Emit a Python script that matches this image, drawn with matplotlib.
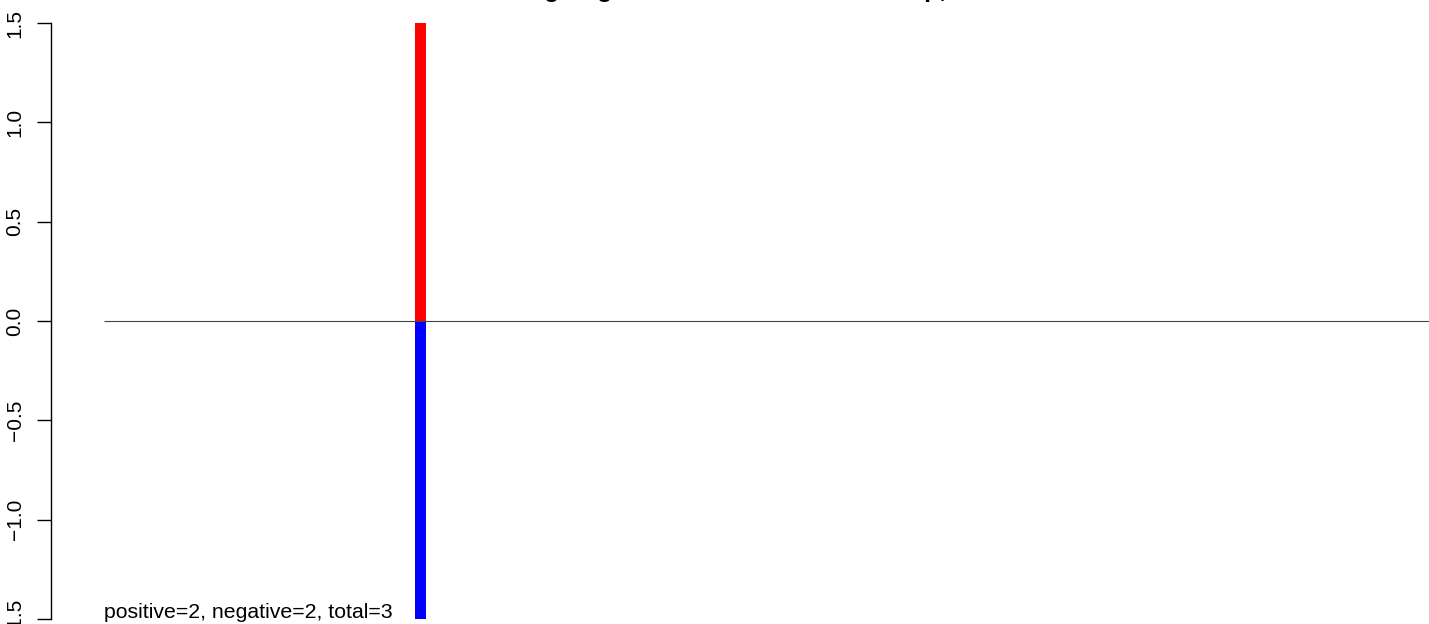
import matplotlib
matplotlib.use("Agg")
import matplotlib.pyplot as plt

# data
positions = [6]
pos_values = [1.5]
neg_values = [-1.5]
n_positive = 2
n_negative = 2
n_total = 3
yticks = [-1.5, -1.0, -0.5, 0.0, 0.5, 1.0, 1.5]
title = "Ranking of genes in the selected set: up, down hits"

plt.rcParams['font.family'] = ['Liberation Sans', 'DejaVu Sans']

W, H = 1429, 624
fig = plt.figure(figsize=(W / 100, H / 100), dpi=100)
ax_left = 51 / W
ax = fig.add_axes([ax_left, 0, 1 - ax_left, 1])

# y: 1.5 -> y=23 px from top, -1.5 -> y=619
upp = 3.0 / (619 - 23)
ax.set_ylim(-1.5 - (H - 619) * upp, 1.5 + 23 * upp)
# x: 0 -> 104 px, 6 -> 420.5 px
ppu = (420.5 - 104) / 6
ax.set_xlim(-(104 - 51) / ppu, (W - 104) / ppu)

ax.bar(positions, pos_values, width=11 / ppu, color='#FF0000', linewidth=0)
ax.bar(positions, neg_values, width=11 / ppu, color='#0000FF', linewidth=0)
ax.hlines(0, 0, 30, color='#444444', lw=0.8, zorder=3)

for s in ['top', 'right', 'bottom']:
    ax.spines[s].set_visible(False)
ax.spines['left'].set_bounds(-1.5, 1.5)
ax.spines['left'].set_linewidth(1.0)
ax.set_xticks([])
ax.set_yticks(yticks)
ax.set_yticklabels([f"{v:.1f}".replace('-', '\u2212') for v in yticks],
                   rotation=90, va='center', fontsize=15)
ax.tick_params(axis='y', length=10, width=1.0, pad=9)

ax.text(0, -1.5 + 1 * upp, f"positive={n_positive}, negative={n_negative}, total={n_total}",
        fontsize=15.3, ha='left', va='baseline')

fig.text(766 / W, 1 + 3.5 / H, title, fontsize=18, fontweight='bold',
         ha='center', va='baseline')

fig.savefig("out.png", dpi=100)
